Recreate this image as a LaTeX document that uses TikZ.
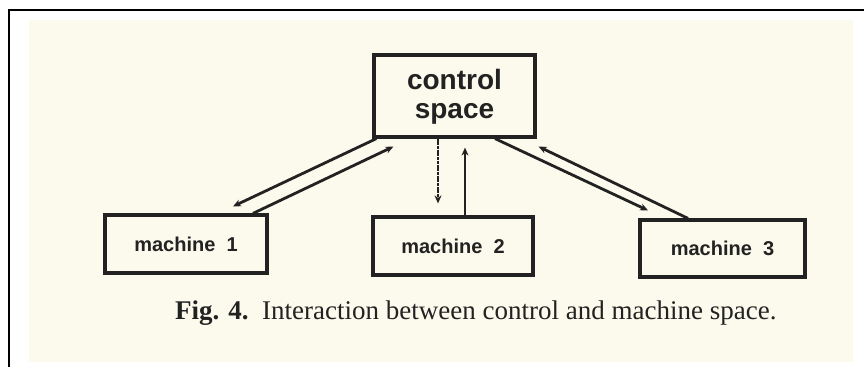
\documentclass[tikz,border=0pt]{standalone}
\usepackage{fontspec}
\setmainfont{Liberation Serif}
\newfontfamily\boxfont{Liberation Sans}
\usetikzlibrary{arrows.meta,calc}
\definecolor{cream}{HTML}{FCFAEC}
\definecolor{ink}{HTML}{222222}
\begin{document}
\begin{tikzpicture}[x=1pt,y=-1pt,
  boxnode/.style={draw=ink,line width=3.2pt,rectangle,inner sep=0pt},
  conn/.style={draw=ink,line width=2.8pt,-{Stealth[length=8pt,width=7pt]}},
  lbl/.style={text=ink,font=\boxfont\bfseries}]
\useasboundingbox (0,0) rectangle (864,367);
\fill[white] (0,0) rectangle (864,367);
\fill[cream] (29,20) rectangle (853,362);
\draw[black,line width=1.8pt] (9,367) -- (9,10) -- (864,10);
% boxes
\node[boxnode,minimum width=161pt,minimum height=82pt] (ctrl) at (454.5,96) {};
\node[boxnode,minimum width=162pt,minimum height=58pt] (m1) at (186,244) {};
\node[boxnode,minimum width=160pt,minimum height=58pt] (m2) at (453,246) {};
\node[boxnode,minimum width=165pt,minimum height=57pt] (m3) at (722.5,248.5) {};
% labels
\node[lbl,font=\boxfont\bfseries\fontsize{28}{29}\selectfont,align=center] (ctrltxt) at ($(ctrl.center)+(0,1)$) {control\\space};
\node[lbl,font=\boxfont\bfseries\fontsize{20}{22}\selectfont] (m1txt) at (m1.center) {machine\ \ 1};
\node[lbl,font=\boxfont\bfseries\fontsize{20}{22}\selectfont] (m2txt) at (m2.center) {machine\ \ 2};
\node[lbl,font=\boxfont\bfseries\fontsize{20}{22}\selectfont] (m3txt) at (m3.center) {machine\ \ 3};
% connectors
\draw[conn] ($(ctrl.south west)+(4,0)$) -- ($(m1.north)+(47,-7)$);
\draw[conn] ($(m1.north)+(67,0)$) -- ($(ctrl.south west)+(21,8)$);
\draw[conn,dash pattern=on 3pt off 0.7pt] ($(ctrl.south)+(-16.5,0)$) -- ($(m2.north)+(-15,-12)$);
\draw[conn] ($(m2.north)+(12,0)$) -- ($(ctrl.south)+(10.5,9)$);
\draw[conn] ($(ctrl.south)+(40.5,0)$) -- ($(m3.north)+(-74.5,-8)$);
\draw[conn] ($(m3.north)+(-34.5,0)$) -- ($(ctrl.south east)+(2,8)$);
% caption
\node[anchor=base west,inner sep=0pt,text=ink,font=\fontsize{27}{30}\selectfont] (cap) at (175,319) {\textbf{Fig. 4.}\ \ Interaction between control and machine space.};
\end{tikzpicture}
\end{document}
